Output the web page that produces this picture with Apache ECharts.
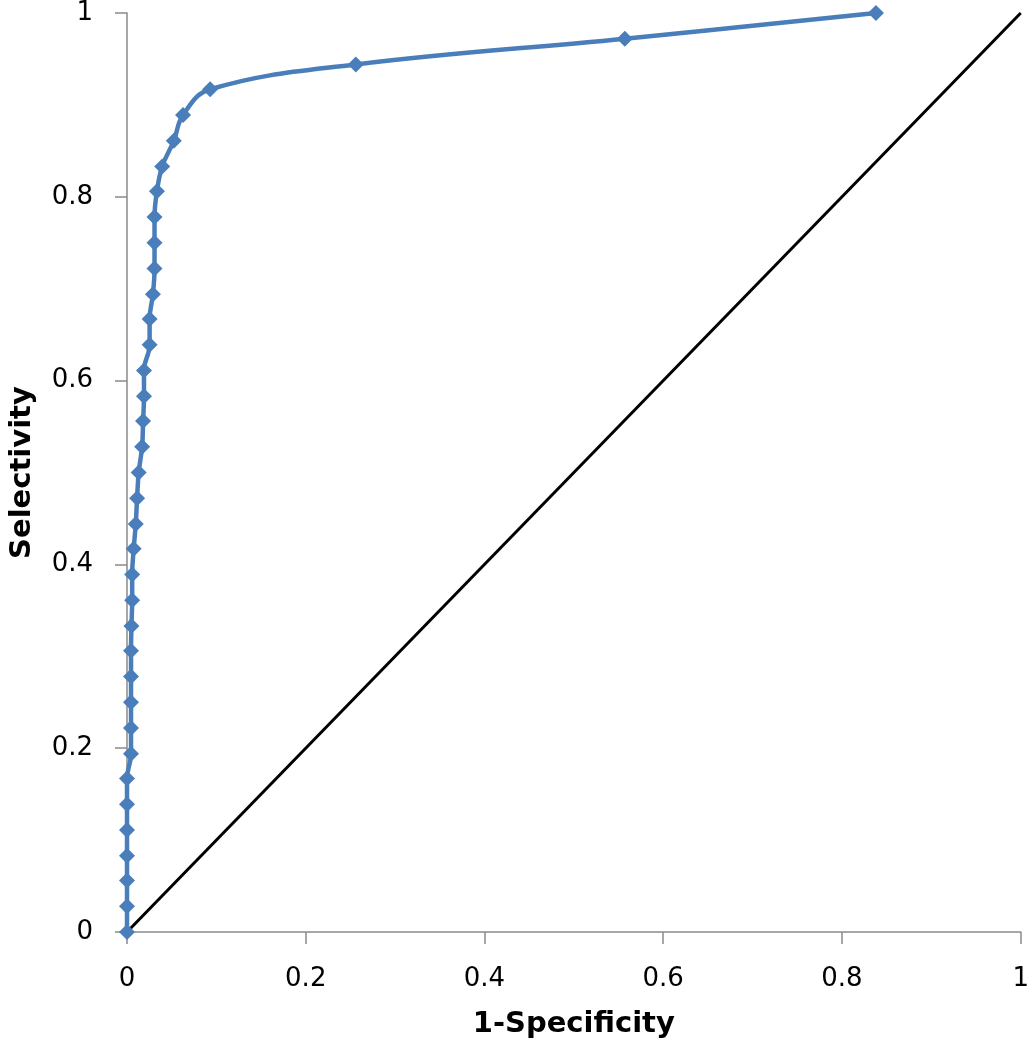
<!DOCTYPE html>
<html>
<head>
<meta charset="utf-8">
<script src="https://cdn.jsdelivr.net/npm/echarts@6/dist/echarts.min.js"></script>
<style>
html,body{margin:0;padding:0;background:#fff;}
#chart{width:1032px;height:1050px;}
</style>
</head>
<body>
<div id="chart"></div>
<script>
// 1-Specificity (x) values of the ROC curve points
var specX = [0, 0, 0, 0, 0, 0, 0, 0.0045, 0.0045, 0.0045, 0.0045, 0.0045, 0.005, 0.0058, 0.0058,
  0.0075, 0.0098, 0.0113, 0.0131, 0.0169, 0.018, 0.019, 0.019, 0.0253, 0.0253, 0.029, 0.0308,
  0.0308, 0.0308, 0.0335, 0.0394, 0.0524, 0.0627, 0.093, 0.256, 0.557, 0.838];
// Selectivity (y) values
var selY = [0, 0.028, 0.056, 0.083, 0.111, 0.139, 0.167, 0.194, 0.222, 0.25, 0.278, 0.306, 0.333,
  0.361, 0.389, 0.417, 0.444, 0.472, 0.5, 0.528, 0.556, 0.583, 0.611, 0.639, 0.667, 0.694, 0.722,
  0.75, 0.778, 0.806, 0.833, 0.861, 0.889, 0.917, 0.944, 0.972, 1];
// Reference diagonal
var diagX = [0, 1];
var diagY = [0, 1];

var rocData = specX.map(function (x, i) { return [x, selY[i]]; });
var diagData = diagX.map(function (x, i) { return [x, diagY[i]]; });

var FONT = 'DejaVu Sans';
var axisCommon = {
  type: 'value', min: 0, max: 1, interval: 0.2,
  splitLine: { show: false },
  axisLine: { show: true, lineStyle: { color: '#8a8a8a', width: 1.5 } },
  axisTick: { show: true, inside: false, length: 12, lineStyle: { color: '#8a8a8a', width: 1.5 } },
  nameLocation: 'middle',
  nameTextStyle: { fontFamily: FONT, fontWeight: 'bold', fontSize: 29, color: '#000' }
};

var chart = echarts.init(document.getElementById('chart'), null, { renderer: 'canvas' });
chart.setOption({
  animation: false,
  backgroundColor: '#fff',
  grid: { left: 120.5, right: 11, top: 13, bottom: 118, containLabel: false },
  xAxis: Object.assign({}, axisCommon, {
    name: '1-Specificity', nameGap: 78,
    axisLabel: { margin: 34, fontFamily: FONT, fontSize: 26, color: '#000' }
  }),
  yAxis: Object.assign({}, axisCommon, {
    name: 'Selectivity', nameGap: 90,
    axisLabel: { margin: 34, fontFamily: FONT, fontSize: 26, color: '#000' }
  }),
  series: [
    {
      type: 'line', data: diagData, symbol: 'none', silent: true,
      lineStyle: { color: '#000', width: 3 }, z: 1
    },
    {
      type: 'line', data: rocData, smooth: 0.4,
      symbol: 'diamond', symbolSize: 16,
      itemStyle: { color: '#4a7ebb' },
      lineStyle: { color: '#4a7ebb', width: 4.5 }, z: 2
    }
  ]
});
</script>
</body>
</html>
